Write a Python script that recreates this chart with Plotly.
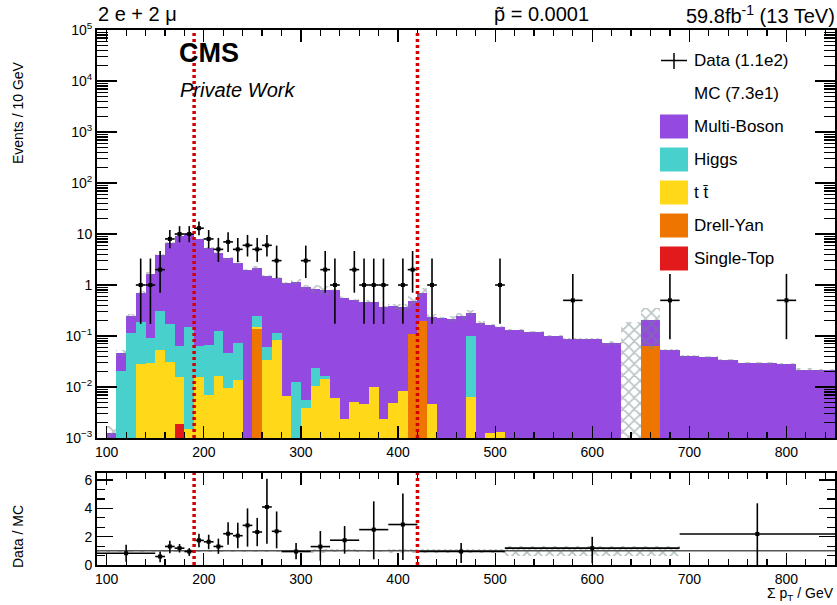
import numpy as np
import plotly.graph_objects as go

# ---------------- data ----------------
# bin edges (GeV): 10 GeV bins up to 510, then 20 GeV bins
bin_edges = list(range(100, 511, 10)) + list(range(530, 851, 20))

# MC per process, events / 10 GeV
single_top = [0, 0, 0, 0, 0, 0, 0, 0.0019, 0, 0,
              0, 0, 0, 0, 0, 0, 0, 0, 0, 0,
              0, 0, 0, 0, 0, 0, 0, 0, 0, 0,
              0, 0, 0, 0, 0, 0, 0, 0, 0, 0,
              0, 0, 0, 0, 0, 0, 0, 0, 0, 0,
              0, 0, 0, 0, 0, 0, 0, 0]
drell_yan = [0, 0, 0, 0, 0, 0, 0, 0, 0, 0,
             0, 0, 0, 0, 0, 0.135, 0, 0, 0, 0,
             0, 0, 0, 0, 0, 0, 0, 0, 0, 0,
             0, 0.108, 0.197, 0, 0, 0, 0, 0, 0, 0,
             0, 0, 0, 0, 0, 0, 0, 0, 0.064, 0,
             0, 0, 0, 0, 0, 0, 0, 0]
ttbar = [0, 0, 0, 0.0278, 0.029, 0.053, 0.031, 0.0136, 0.0015, 0.0155,
         0.007, 0.0164, 0.0097, 0.0137, 0, 0.013, 0.0338, 0.0835, 0.00675, 0,
         0.0039, 0.0105, 0.0143, 0.006, 0.0024, 0.005, 0.0046, 0.0099, 0.0024, 0.0048,
         0.0085, 0.002, 0.002, 0.0046, 0, 0, 0, 0.0063, 0, 0.00125,
         0.0013, 0, 0, 0, 0, 0, 0, 0, 0, 0,
         0, 0, 0, 0, 0, 0, 0, 0]
higgs = [0, 0.021, 0.113, 0.163, 0.064, 0.261, 0.141, 0.049, 0.1465, 0.0485,
         0.059, 0.109, 0.037, 0.060, 0, 0.098, 0.026, 0.03, 0, 0.0126,
         0.0017, 0.0135, 0.0021, 0, 0, 0, 0, 0, 0, 0,
         0, 0, 0, 0, 0, 0, 0, 0.094, 0, 0,
         0, 0, 0, 0, 0, 0, 0, 0, 0, 0,
         0, 0, 0, 0, 0, 0, 0, 0]
multi_boson = [0.00125, 0.026, 0.137, 0.52, 1.55, 3.57, 6.6, 9.1, 10.0, 8.0,
               5.3, 4.05, 3.28, 2.67, 1.97, 1.94, 1.44, 1.24, 1.07, 1.15,
               0.89, 0.816, 0.784, 0.794, 0.563, 0.495, 0.465, 0.45, 0.368, 0.375,
               0.36, 0.37, 0.51, 0.235, 0.224, 0.22, 0.247, 0.187, 0.178, 0.163,
               0.151, 0.131, 0.122, 0.1, 0.087, 0.087, 0.074, 0, 0.142, 0.053,
               0.041, 0.039, 0.034, 0.030, 0.029, 0.028, 0.022, 0.0215]
mc_unc = [0.0005, 0.006, 0.02, 0.04, 0.12, 0.2, 0.3, 0.35, 0.4, 0.35,
          0.25, 0.2, 0.2, 0.15, 0.1, 0.2, 0.07, 0.06, 0.05, 0.12,
          0.1, 0.15, 0.15, 0.05, 0.03, 0.03, 0.03, 0.02, 0.02, 0.04,
          0.06, 0.12, 0.15, 0.03, 0.01, 0.03, 0.04, 0.04, 0.015, 0.008,
          0.007, 0.006, 0.006, 0.005, 0.005, 0.004, 0.006, 0.185, 0.15, 0.003,
          0.002, 0.002, 0.002, 0.0015, 0.0015, 0.0015, 0.0015, 0.0015]
# data counts per bin
data_counts = [0, 0, 0, 1, 1, 2, 8, 10, 10, 13,
               8, 5, 7, 5, 6, 5, 6, 3, 0, 0,
               3, 0, 2, 1, 0, 2, 1, 1, 1, 0,
               1, 2, 0, 1, 0, 0, 0, 0, 0, 0,
               1, 0, 0, 0, 1, 0, 0, 0, 0, 1,
               0, 0, 0, 0, 0, 1, 0, 0]
# Garwood 68% intervals (lower, upper) for n events
poisson_interval = {1: (0.173, 3.300), 2: (0.708, 4.638), 3: (1.367, 5.918),
                    5: (2.840, 8.382), 6: (3.620, 9.584), 7: (4.419, 10.77),
                    8: (5.232, 11.95), 10: (6.891, 14.27), 13: (9.424, 17.67)}

# ratio panel
ratio_lo = [90, 150, 160, 170, 180, 190, 200, 210, 220, 230, 240, 250, 260, 270,
            280, 310, 330, 360, 390, 420, 510, 690]
ratio_hi = [150, 160, 170, 180, 190, 200, 210, 220, 230, 240, 250, 260, 270, 280,
            310, 330, 360, 390, 420, 510, 690, 850]
ratio_val = [0.83, 0.6, 1.31, 1.19, 0.95, 1.74, 1.64, 1.31, 2.21, 2.07, 2.8, 2.33, 4.1, 2.38,
             0.95, 1.3, 1.75, 2.5, 2.86, 0.95, 1.19, 2.19]
ratio_err_hi = [0.6, 0.35, 0.4, 0.29, 0.24, 0.47, 0.5, 0.55, 0.81, 0.91, 1.2, 1.0, 2.0, 1.4,
                0.6, 1.1, 1.0, 2.0, 2.2, 0.6, 0.8, 2.17]
ratio_err_lo = [0.6, 0.4, 0.48, 0.31, 0.31, 0.48, 0.52, 0.52, 0.78, 0.88, 1.5, 1.0, 2.6, 1.2,
                0.55, 1.0, 0.95, 2.1, 2.5, 0.8, 1.07, 2.19]
ratio_unc = [0.06, 0.06, 0.06, 0.05, 0.05, 0.05, 0.05, 0.06, 0.06, 0.06, 0.06, 0.08, 0.06, 0.06,
             0.08, 0.15, 0.1, 0.06, 0.15, 0.15, 0.35, 0.03]

cut_values = [190, 420]
x_ticks = [100, 200, 300, 400, 500, 600, 700, 800]
y_ticks = [1e-3, 1e-2, 1e-1, 1, 10, 1e2, 1e3, 1e4, 1e5]
y_ticktext = ["10<sup>\u22123</sup>", "10<sup>\u22122</sup>", "10<sup>\u22121</sup>", "1", "10",
              "10<sup>2</sup>", "10<sup>3</sup>", "10<sup>4</sup>", "10<sup>5</sup>"]
r_ticks = [0, 2, 4, 6]

processes = [("Single-Top", single_top, "#e31a1c"),
             ("Drell-Yan", drell_yan, "#ee7600"),
             ("t t\u0304", ttbar, "#ffd81a"),
             ("Higgs", higgs, "#48d1cc"),
             ("Multi-Boson", multi_boson, "#944ae0")]

# ---------------- figure ----------------
FONT = "Liberation Sans, Arial, sans-serif"
edges = np.array(bin_edges, dtype=float)
centers = 0.5 * (edges[:-1] + edges[1:])
widths = edges[1:] - edges[:-1]

fig = go.Figure()

vals = np.array([p[1] for p in processes], dtype=float)
cum = np.cumsum(vals, axis=0)
for i in reversed(range(len(processes))):
    yv = [c if v > 0 else None for c, v in zip(cum[i], vals[i])]
    fig.add_trace(go.Bar(x=centers, y=yv, width=widths, marker=dict(color=processes[i][2], line=dict(width=0)),
                         showlegend=False, xaxis="x", yaxis="y", hoverinfo="skip"))

total = cum[-1]
unc = np.array(mc_unc)
band_lo = np.maximum(total - unc, 1e-4)
band_hi = total + unc
hatch = dict(shape="x", fgcolor="#6f8585", bgcolor="rgba(0,0,0,0)", size=8, solidity=0.35)
fig.add_trace(go.Bar(x=centers, base=band_lo, y=band_hi - band_lo, width=widths,
                     marker=dict(color="rgba(0,0,0,0)", line=dict(width=0), pattern=hatch),
                     showlegend=False, xaxis="x", yaxis="y", hoverinfo="skip"))

counts = np.array(data_counts)
mask = counts > 0
scale = 10.0 / widths[mask]
n_sel = counts[mask]
dens = n_sel * scale
elo = np.array([n - poisson_interval[n][0] for n in n_sel]) * scale
ehi = np.array([poisson_interval[n][1] - n for n in n_sel]) * scale
fig.add_trace(go.Scatter(x=centers[mask], y=dens, mode="markers",
                         marker=dict(symbol="square", size=4, color="black"),
                         error_x=dict(type="data", array=widths[mask] / 2, width=0, thickness=1.6, color="black"),
                         error_y=dict(type="data", symmetric=False, array=ehi, arrayminus=elo, width=0,
                                      thickness=1.6, color="black"),
                         showlegend=False, xaxis="x", yaxis="y", hoverinfo="skip"))

# ratio panel
rlo = np.array(ratio_lo, dtype=float)
rhi = np.array(ratio_hi, dtype=float)
rc = 0.5 * (rlo + rhi)
rw = rhi - rlo
ru = np.array(ratio_unc)
fig.add_trace(go.Bar(x=rc, base=1 - ru, y=2 * ru, width=rw,
                     marker=dict(color="rgba(0,0,0,0)", line=dict(width=0), pattern=hatch),
                     showlegend=False, xaxis="x2", yaxis="y2", hoverinfo="skip"))
fig.add_trace(go.Scatter(x=[90, 850], y=[1, 1], mode="lines", line=dict(color="#555555", width=1.5),
                         showlegend=False, xaxis="x2", yaxis="y2", hoverinfo="skip"))
fig.add_trace(go.Scatter(x=rc, y=ratio_val, mode="markers",
                         marker=dict(symbol="square", size=4, color="black"),
                         error_x=dict(type="data", array=rw / 2, width=0, thickness=1.6, color="black"),
                         error_y=dict(type="data", symmetric=False, array=ratio_err_hi, arrayminus=ratio_err_lo,
                                      width=0, thickness=1.6, color="black"),
                         showlegend=False, xaxis="x2", yaxis="y2", hoverinfo="skip"))

shapes = []
for c in cut_values:
    shapes.append(dict(type="line", xref="x", yref="y domain", x0=c, x1=c, y0=0, y1=1,
                       line=dict(color="#d40000", width=3.5, dash="3px,3px"), layer="above"))
    shapes.append(dict(type="line", xref="x2", yref="y2 domain", x0=c, x1=c, y0=0, y1=1,
                       line=dict(color="#d40000", width=3.5, dash="3px,3px"), layer="above"))

# legend (manual)
W, H, L, T, B = 837, 605, 97, 30, 40
pw, ph = W - L - 2, H - T - B


def px(xp):
    return (xp - L) / pw


def py(yp):
    return (H - B - yp) / ph


leg_y = [126.5, 159.5, 192.5, 225.5, 258.5]
leg_items = list(reversed(processes))
for (name, _, col), yc in zip(leg_items, leg_y):
    shapes.append(dict(type="rect", xref="paper", yref="paper", x0=px(660), x1=px(688),
                       y0=py(yc + 12), y1=py(yc - 12), fillcolor=col, line=dict(width=0)))
shapes.append(dict(type="line", xref="paper", yref="paper", x0=px(661), x1=px(687), y0=py(60.5), y1=py(60.5),
                   line=dict(color="black", width=1.5)))
shapes.append(dict(type="line", xref="paper", yref="paper", x0=px(674), x1=px(674), y0=py(53), y1=py(69),
                   line=dict(color="black", width=1.5)))

annotations = []


def ann(text, x, y, size, xanchor="left", yanchor="middle", angle=0):
    annotations.append(dict(text=text, x=x, y=y, xref="paper", yref="paper", xanchor=xanchor,
                            yanchor=yanchor, showarrow=False, textangle=angle,
                            font=dict(family=FONT, size=size, color="black")))


ann("Data (1.1e2)", px(692), py(60.5), 17)
ann("MC (7.3e1)", px(692), py(93.5), 17)
for (name, _, col), yc in zip(leg_items, leg_y):
    ann(name, px(692), py(yc), 17)

ann("2 e + 2 \u03bc", px(96), py(14), 20)
ann("p\u0303 = 0.0001", px(492), py(14), 20)
ann("59.8fb<sup>-1</sup> (13 TeV)", px(837), py(14), 20, xanchor="right")
ann("<b>CMS</b>", px(177), py(53), 27)
ann("<i>Private Work</i>", px(178), py(90), 20)
ann("Events / 10 GeV", px(18), py(113), 14, xanchor="center", angle=-90)
ann("Data / MC", px(18), py(537), 14, xanchor="center", angle=-90)
ann("\u03a3 p<sub>T</sub> / GeV", px(836), py(594), 14, xanchor="right")

axis_base = dict(showline=True, linewidth=2, linecolor="black", mirror="ticks", ticks="inside",
                 tickcolor="black", tickwidth=1.2, showgrid=False, zeroline=False, automargin=False,
                 tickfont=dict(family=FONT, size=14, color="black"))

main_bottom = (H - B - 438) / ph
ratio_top = (H - B - 473) / ph

fig.update_layout(
    width=W, height=H, margin=dict(l=L, r=2, t=T, b=B, autoexpand=False),
    paper_bgcolor="white", plot_bgcolor="white",
    barmode="overlay", bargap=0,
    font=dict(family=FONT, color="black"),
    xaxis=dict(axis_base, range=[90, 850], tickmode="array", tickvals=x_ticks, ticklen=12,
               minor=dict(ticks="inside", ticklen=6, tick0=0, dtick=20, tickcolor="black"),
               anchor="y", domain=[0, 1]),
    yaxis=dict(axis_base, type="log", range=[-3, 5], tickmode="array", tickvals=y_ticks, ticktext=y_ticktext,
               ticklen=20, minor=dict(ticks="inside", ticklen=11, dtick="D1", tickcolor="black"),
               anchor="x", domain=[main_bottom, 1]),
    xaxis2=dict(axis_base, range=[90, 850], tickmode="array", tickvals=x_ticks, ticklen=12,
                minor=dict(ticks="inside", ticklen=6, tick0=0, dtick=20, tickcolor="black"),
                anchor="y2", domain=[0, 1], matches="x"),
    yaxis2=dict(axis_base, range=[0, 6.5], tickmode="array", tickvals=r_ticks, ticklen=16,
                minor=dict(ticks="inside", ticklen=8, tick0=0, dtick=2 / 3, tickcolor="black"),
                anchor="x2", domain=[0, ratio_top]),
    shapes=shapes, annotations=annotations,
)

fig.write_html("out.html", config={"displayModeBar": False, "staticPlot": True},
               post_script="document.body.style.margin='0px';document.body.style.overflow='hidden';")
